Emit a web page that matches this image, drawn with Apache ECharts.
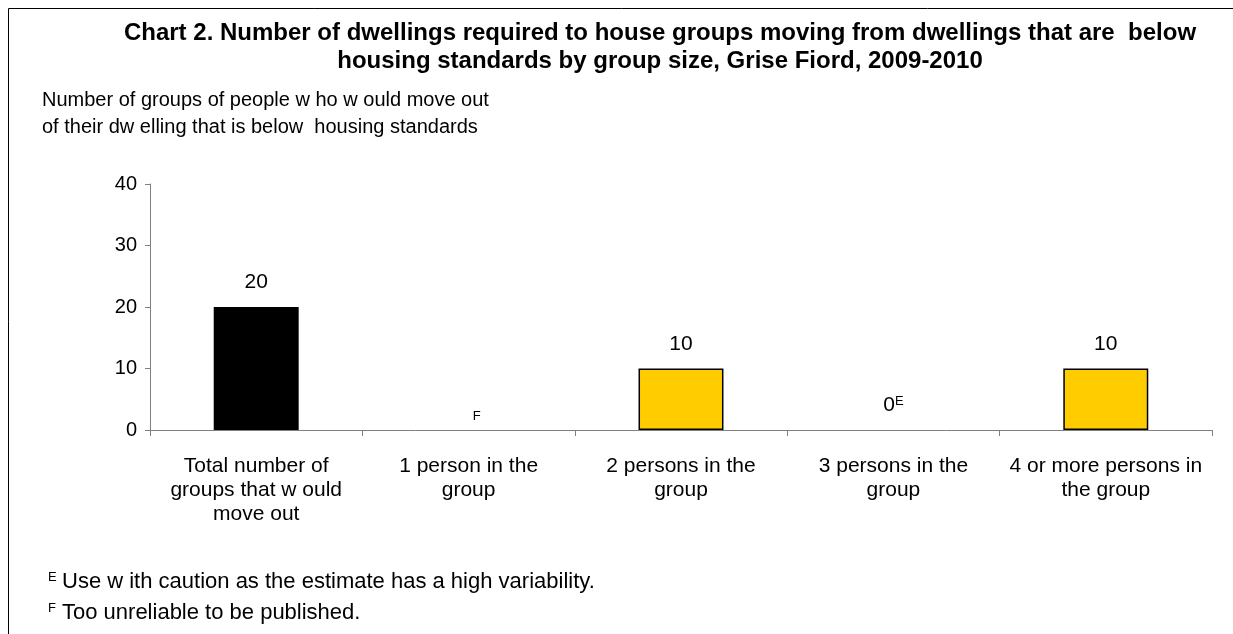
<!DOCTYPE html>
<html>
<head>
<meta charset="utf-8">
<script src="https://cdn.jsdelivr.net/npm/echarts@6/dist/echarts.min.js"></script>
<style>html,body{margin:0;padding:0;background:#fff;}#c{width:1233px;height:634px;}</style>
</head>
<body>
<div id="c"></div>
<script>
var categories = ['Total number of\ngroups that w ould\nmove out', '1 person in the\ngroup', '2 persons in the\ngroup', '3 persons in the\ngroup', '4 or more persons in\nthe group'];
var values = [20, 0, 10, 0, 10];
var flags = ['', 'F', '', 'E', ''];
var barColors = ['#000000', '#FFCC00', '#FFCC00', '#FFCC00', '#FFCC00'];
var yTicks = [0, 10, 20, 30, 40];
var titleLines = ['Chart 2. Number of dwellings required to house groups moving from dwellings that are  below', 'housing standards by group size, Grise Fiord, 2009-2010'];
var yTitleLines = ['Number of groups of people w ho w ould move out', 'of their dw elling that is below  housing standards'];
var notes = [['E', 'Use w ith caution as the estimate has a high variability.'], ['F', 'Too unreliable to be published.']];

var FONT = "'Liberation Sans', Arial, sans-serif";
var chart = echarts.init(document.getElementById('c'), null, {renderer: 'canvas'});

var seriesData = values.map(function (v, i) {
  var item = {value: v, itemStyle: {color: barColors[i], borderColor: '#000', borderWidth: (v === 0 ? 0 : (i === 0 ? 0 : 1.5))}};
  if (flags[i] === 'F') {
    item.label = {show: true, position: 'top', distance: 7, offset: [8, 0], formatter: '{f|F}'};
  } else if (flags[i] === 'E') {
    item.label = {show: true, position: 'top', distance: 14, formatter: '{v|' + v + '}{e|E}'};
  }
  return item;
});

var graphics = [
  {type: 'rect', shape: {x: 8.5, y: 8.5, width: 1400, height: 800}, style: {fill: null, stroke: '#000', lineWidth: 1}, silent: true, z: -1}
];
yTitleLines.forEach(function (t, i) {
  graphics.push({type: 'text', left: 42, top: 90 + i * 27, style: {text: t, font: '20px ' + FONT, fill: '#000'}});
});
notes.forEach(function (n, i) {
  graphics.push({type: 'text', left: 48, top: 571 + i * 31, style: {text: n[0], font: '13px ' + FONT, fill: '#000'}});
  graphics.push({type: 'text', left: 62, top: 571 + i * 31, style: {text: n[1], font: '22px ' + FONT, fill: '#000'}});
});

chart.setOption({
  animation: false,
  backgroundColor: '#fff',
  textStyle: {fontFamily: FONT},
  title: {
    text: titleLines.join('\n'),
    left: 655, textAlign: 'center', top: 14,
    textStyle: {fontSize: 24, fontWeight: 'bold', color: '#000', lineHeight: 28, fontFamily: FONT}
  },
  grid: {left: 150, right: 21, top: 184, bottom: 204, containLabel: false},
  xAxis: {
    type: 'category',
    data: categories,
    axisLine: {lineStyle: {color: '#808080', width: 1}},
    axisTick: {show: true, alignWithLabel: false, length: 6, lineStyle: {color: '#808080'}},
    axisLabel: {color: '#000', fontSize: 21, lineHeight: 24, margin: 24, interval: 0, fontFamily: FONT}
  },
  yAxis: {
    type: 'value', min: 0, max: 40, interval: 10,
    axisLine: {show: true, lineStyle: {color: '#808080', width: 1}},
    axisTick: {show: true, length: 5, lineStyle: {color: '#808080'}},
    splitLine: {show: false},
    axisLabel: {color: '#000', fontSize: 20, margin: 13, fontFamily: FONT,
      formatter: function (v) { return yTicks.indexOf(v) >= 0 ? String(v) : ''; }}
  },
  series: [{
    type: 'bar',
    data: seriesData,
    barWidth: '40%',
    label: {
      show: true, position: 'top', distance: 14, color: '#000', fontSize: 21, fontFamily: FONT,
      formatter: function (p) { return flags[p.dataIndex] ? '' : String(p.value); },
      rich: {
        f: {fontSize: 13, color: '#000', fontFamily: FONT},
        v: {fontSize: 21, color: '#000', fontFamily: FONT},
        e: {fontSize: 13, color: '#000', fontFamily: FONT, verticalAlign: 'top', padding: [0, 0, 8, 0]}
      }
    }
  }],
  graphic: graphics
});
</script>
</body>
</html>
